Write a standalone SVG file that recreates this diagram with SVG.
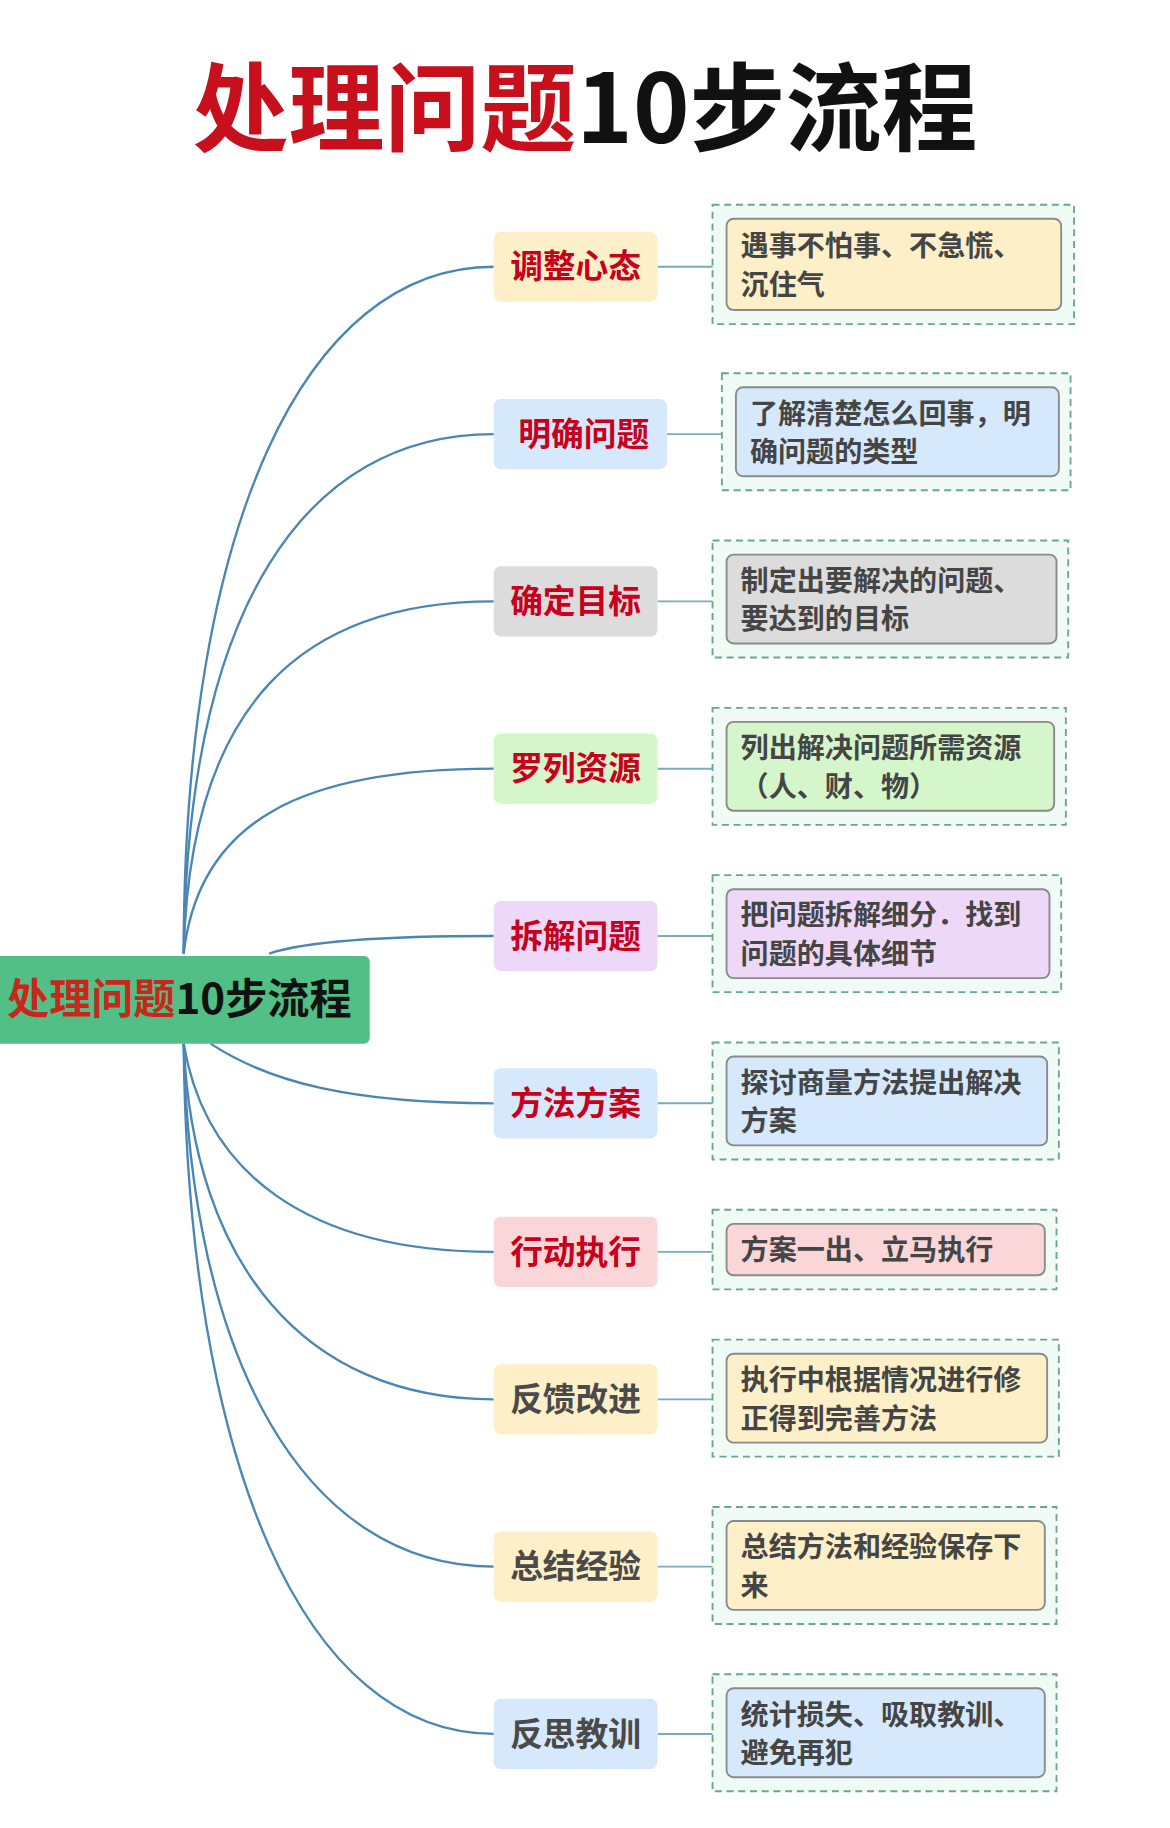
<svg xmlns="http://www.w3.org/2000/svg" width="1170" height="1828" viewBox="0 0 1170 1828">
<style>
.t{font-family:"Noto Sans CJK SC","Liberation Sans",sans-serif;font-weight:bold}
.c{fill:none;stroke:#4a86b4;stroke-width:2}
.s{stroke:#7aaac0;stroke-width:1.6}
.o{fill:#f1fbf6;stroke:#6aa88a;stroke-width:1.6;stroke-dasharray:6 4}
.i{stroke:#8a8a8a;stroke-width:1.6}
.n{font-size:28px;fill:#c8001c}
.g{font-size:28px;fill:#4a4a4a}
.d{font-size:24px;fill:#454545}
.y{fill:#fdf0c8}.b{fill:#d6e8fb}.gr{fill:#dcdcdc}.gn{fill:#d4f6ca}.p{fill:#eed8f8}.r{fill:#fbd6d8}
</style>
<rect width="1170" height="1828" fill="#fff"/>
<g transform="scale(1.17)">
<text x="500" y="122" text-anchor="middle" class="t" font-size="82"><tspan fill="#c8101c">处理问题</tspan><tspan fill="#111">10步流程</tspan></text>
<g id="connectors">
<path class="c" d="M157 815 C157 450 260 228 422 228"/>
<path class="c" d="M157 815 C160 520 260 371 422 371"/>
<path class="c" d="M157 815 C162 600 260 514 422 514"/>
<path class="c" d="M157 815 C170 700 260 657 422 657"/>
<path class="c" d="M230 815 C260 805 330 800 422 800"/>
<path class="c" d="M180 892 C230 925 300 943 422 943"/>
<path class="c" d="M157 892 C175 1000 260 1070 422 1070"/>
<path class="c" d="M157 892 C165 1080 260 1196 422 1196"/>
<path class="c" d="M157 892 C162 1160 260 1339 422 1339"/>
<path class="c" d="M157 892 C160 1250 260 1482 422 1482"/>
<path class="s" d="M562 228H621M570 371H629M562 514H621M562 657H621M562 800H621M562 943H621M562 1070H621M562 1196H621M562 1339H621M562 1482H621"/>
</g>
<g id="root"><rect x="-5" y="817" width="321" height="75" rx="5" fill="#52bf86"/>
<text x="6" y="867" class="t" font-size="36"><tspan fill="#c8281c">处理问题</tspan><tspan fill="#111">10步流程</tspan></text></g>
<g id="n1"><rect x="422" y="198" width="140" height="60" rx="6" class="y"/><text x="492" y="238" text-anchor="middle" class="t n">调整心态</text></g>
<g id="n2"><rect x="422" y="341" width="148" height="60" rx="6" class="b"/><text x="499" y="381" text-anchor="middle" class="t n">明确问题</text></g>
<g id="n3"><rect x="422" y="484" width="140" height="60" rx="6" class="gr"/><text x="492" y="524" text-anchor="middle" class="t n">确定目标</text></g>
<g id="n4"><rect x="422" y="627" width="140" height="60" rx="6" class="gn"/><text x="492" y="667" text-anchor="middle" class="t n">罗列资源</text></g>
<g id="n5"><rect x="422" y="770" width="140" height="60" rx="6" class="p"/><text x="492" y="810" text-anchor="middle" class="t n">拆解问题</text></g>
<g id="n6"><rect x="422" y="913" width="140" height="60" rx="6" class="b"/><text x="492" y="953" text-anchor="middle" class="t n">方法方案</text></g>
<g id="n7"><rect x="422" y="1040" width="140" height="60" rx="6" class="r"/><text x="492" y="1080" text-anchor="middle" class="t n">行动执行</text></g>
<g id="n8"><rect x="422" y="1166" width="140" height="60" rx="6" class="y"/><text x="492" y="1206" text-anchor="middle" class="t g">反馈改进</text></g>
<g id="n9"><rect x="422" y="1309" width="140" height="60" rx="6" class="y"/><text x="492" y="1349" text-anchor="middle" class="t g">总结经验</text></g>
<g id="n10"><rect x="422" y="1452" width="140" height="60" rx="6" class="b"/><text x="492" y="1492" text-anchor="middle" class="t g">反思教训</text></g>
<g id="d1"><rect x="609" y="175" width="309" height="102" class="o"/><rect x="621" y="187" width="286" height="78" rx="6" class="y i"/><text class="t d" x="633" y="219">遇事不怕事、不急慌、</text><text class="t d" x="633" y="252">沉住气</text></g>
<g id="d2"><rect x="617" y="319" width="298" height="100" class="o"/><rect x="629" y="331" width="276" height="76" rx="6" class="b i"/><text class="t d" x="641" y="362">了解清楚怎么回事，明</text><text class="t d" x="641" y="395">确问题的类型</text></g>
<g id="d3"><rect x="609" y="462" width="304" height="100" class="o"/><rect x="621" y="474" width="282" height="76" rx="6" class="gr i"/><text class="t d" x="633" y="505">制定出要解决的问题、</text><text class="t d" x="633" y="538">要达到的目标</text></g>
<g id="d4"><rect x="609" y="605" width="302" height="100" class="o"/><rect x="621" y="617" width="280" height="76" rx="6" class="gn i"/><text class="t d" x="633" y="648">列出解决问题所需资源</text><text class="t d" x="633" y="681">（人、财、物）</text></g>
<g id="d5"><rect x="609" y="748" width="298" height="100" class="o"/><rect x="621" y="760" width="276" height="76" rx="6" class="p i"/><text class="t d" x="633" y="791">把问题拆解细分．找到</text><text class="t d" x="633" y="824">问题的具体细节</text></g>
<g id="d6"><rect x="609" y="891" width="296" height="100" class="o"/><rect x="621" y="903" width="274" height="76" rx="6" class="b i"/><text class="t d" x="633" y="934">探讨商量方法提出解决</text><text class="t d" x="633" y="967">方案</text></g>
<g id="d7"><rect x="609" y="1034" width="294" height="68" class="o"/><rect x="621" y="1046" width="272" height="44" rx="6" class="r i"/><text class="t d" x="633" y="1077">方案一出、立马执行</text></g>
<g id="d8"><rect x="609" y="1145" width="296" height="100" class="o"/><rect x="621" y="1157" width="274" height="76" rx="6" class="y i"/><text class="t d" x="633" y="1188">执行中根据情况进行修</text><text class="t d" x="633" y="1221">正得到完善方法</text></g>
<g id="d9"><rect x="609" y="1288" width="294" height="100" class="o"/><rect x="621" y="1300" width="272" height="76" rx="6" class="y i"/><text class="t d" x="633" y="1331">总结方法和经验保存下</text><text class="t d" x="633" y="1364">来</text></g>
<g id="d10"><rect x="609" y="1431" width="294" height="100" class="o"/><rect x="621" y="1443" width="272" height="76" rx="6" class="b i"/><text class="t d" x="633" y="1474">统计损失、吸取教训、</text><text class="t d" x="633" y="1507">避免再犯</text></g>
</g>
</svg>
